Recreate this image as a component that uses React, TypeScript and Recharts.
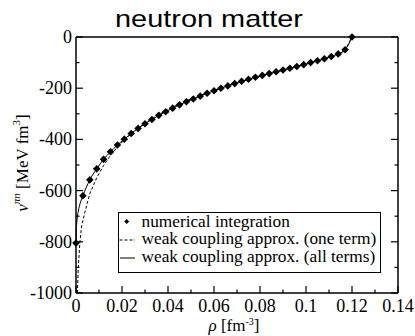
import React from 'react'
import { ComposedChart, Line, Scatter, XAxis, YAxis, Legend } from 'recharts'

// numerical integration (diamonds)
const rhoNumerical = [
  0, 0.003, 0.006, 0.009, 0.012, 0.015, 0.018, 0.021, 0.024, 0.027, 0.03, 0.033, 0.036, 0.039,
  0.042, 0.045, 0.048, 0.051, 0.054, 0.057, 0.06, 0.063, 0.066, 0.069, 0.072, 0.075, 0.078,
  0.081, 0.084, 0.087, 0.09, 0.093, 0.096, 0.099, 0.102, 0.105, 0.108, 0.111, 0.114, 0.117, 0.12,
]
const vNumerical = [
  -805, -620, -558, -515, -478, -448, -422, -399, -377, -357, -339, -322, -306, -292, -278, -265,
  -253, -242, -231, -220, -210, -200, -191, -182, -173, -165, -157, -150, -143, -136, -129, -122,
  -115, -108, -100, -93, -85, -76, -66, -50, 0,
]

// weak coupling approx., one term (dashed)
const rhoOneTerm = [
  0.0006, 0.001, 0.0017, 0.0025, 0.004, 0.006, 0.009, 0.012, 0.015, 0.018, 0.021, 0.025, 0.03,
  0.035, 0.04, 0.045, 0.05, 0.055, 0.06, 0.065, 0.07, 0.075, 0.08, 0.085, 0.09, 0.095, 0.1,
  0.105, 0.11, 0.114, 0.117, 0.12,
]
const vOneTerm = [
  -1000, -900, -800, -735, -680, -612, -550, -502, -462, -430, -402, -370, -336, -308, -283, -261,
  -242, -225, -208, -193, -179, -166, -153, -141, -130, -118, -106, -94, -80, -68, -52, 0,
]

// weak coupling approx., all terms (solid)
const rhoAllTerms = [0, 0.0001, 0.0003, 0.0006, 0.001, 0.0018, ...rhoNumerical.slice(1)]
const vAllTerms = [-805, -760, -730, -702, -680, -650, ...vNumerical.slice(1)]

const xTicks = [0, 0.01, 0.02, 0.03, 0.04, 0.05, 0.06, 0.07, 0.08, 0.09, 0.1, 0.11, 0.12, 0.13, 0.14]
const xLabelled = [0, 0.02, 0.04, 0.06, 0.08, 0.1, 0.12, 0.14]
const yTicks = [0, -100, -200, -300, -400, -500, -600, -700, -800, -900, -1000]
const yLabelled = [0, -200, -400, -600, -800, -1000]

const numerical = rhoNumerical.map((rho, i) => ({ rho, v: vNumerical[i] }))
const oneTerm = rhoOneTerm.map((rho, i) => ({ rho, v: vOneTerm[i] }))
const allTerms = rhoAllTerms.map((rho, i) => ({ rho, v: vAllTerms[i] }))

const serif = "'Liberation Serif', 'Times New Roman', serif"
const MAJOR = 7
const MINOR = 3.5

const BottomTick = (props: any) => {
  const { x, y, payload } = props
  const major = xLabelled.includes(payload.value)
  return (
    <g>
      <line x1={x} x2={x} y1={y} y2={y - (major ? MAJOR : MINOR)} stroke="#000" strokeWidth={1.2} />
      {major && (
        <text x={x} y={y + 19} textAnchor="middle" fontFamily={serif} fontSize={18} fill="#000">
          {String(payload.value)}
        </text>
      )}
    </g>
  )
}

const TopTick = (props: any) => {
  const { x, y, payload } = props
  const major = xLabelled.includes(payload.value)
  return <line x1={x} x2={x} y1={y} y2={y + (major ? MAJOR : MINOR)} stroke="#000" strokeWidth={1.2} />
}

const LeftTick = (props: any) => {
  const { x, y, payload } = props
  const major = yLabelled.includes(payload.value)
  return (
    <g>
      <line x1={x} x2={x + (major ? MAJOR : MINOR)} y1={y} y2={y} stroke="#000" strokeWidth={1.2} />
      {major && (
        <text x={x - 4} y={y + 6} textAnchor="end" fontFamily={serif} fontSize={18} fill="#000">
          {String(payload.value)}
        </text>
      )}
    </g>
  )
}

const RightTick = (props: any) => {
  const { x, y, payload } = props
  const major = yLabelled.includes(payload.value)
  return <line x1={x} x2={x - (major ? MAJOR : MINOR)} y1={y} y2={y} stroke="#000" strokeWidth={1.2} />
}

const Diamond = (props: any) => {
  const { cx, cy } = props
  const r = 3.8
  return <polygon points={`${cx},${cy - r} ${cx + r},${cy} ${cx},${cy + r} ${cx - r},${cy}`} fill="#000" />
}

const XTitle = () => (
  <text x={234} y={331} textAnchor="middle" fontFamily={serif} fontSize={17} fill="#000">
    <tspan fontStyle="italic">ρ</tspan>
    <tspan> [fm</tspan>
    <tspan fontSize={10} dy={-6.5}>-3</tspan>
    <tspan dy={6.5}>]</tspan>
  </text>
)

const YTitle = () => {
  const cy = 163
  const bx = 28
  return (
    <text
      x={bx}
      y={cy}
      transform={`rotate(-90 ${bx} ${cy})`}
      textAnchor="middle"
      fontFamily={serif}
      fontSize={17}
      fill="#000"
    >
      <tspan fontStyle="italic">ν</tspan>
      <tspan fontStyle="italic" fontSize={11} dy={-8}>πn</tspan>
      <tspan dy={8}> [MeV fm</tspan>
      <tspan fontSize={11} dy={-8}>3</tspan>
      <tspan dy={8}>]</tspan>
    </text>
  )
}

const LegendBox = () => (
  <svg width={263} height={61} style={{ display: 'block' }}>
    <rect x={0.5} y={0.5} width={262} height={60} fill="#fff" stroke="#000" strokeWidth={1} />
    <polygon points="8.7,7 11.2,9.5 8.7,12 6.2,9.5" fill="#000" />
    <line x1={1.5} x2={17} y1={28} y2={28} stroke="#000" strokeDasharray="3 2" />
    <line x1={2} x2={17} y1={46} y2={46} stroke="#000" />
    <g fontFamily={serif} fontSize={17.3} fill="#000">
      <text x={23.5} y={14.7}>numerical integration</text>
      <text x={23.5} y={32.3}>weak coupling approx. (one term)</text>
      <text x={23.5} y={50.3}>weak coupling approx. (all terms)</text>
    </g>
  </svg>
)

export default function App() {
  return (
    <div style={{ position: 'absolute', left: 0, top: 0, width: 415, height: 336, background: '#fff' }}>
      <svg width={415} height={36} style={{ position: 'absolute', left: 0, top: 0 }}>
        <text
          x={209}
          y={27}
          textAnchor="middle"
          fontFamily="'Liberation Sans', Arial, sans-serif"
          fontSize={24}
          textLength={188}
          lengthAdjust="spacingAndGlyphs"
          fill="#000"
        >
          neutron matter
        </text>
      </svg>
      <ComposedChart width={415} height={336} margin={{ top: 36, right: 16, bottom: 42, left: 75 }}>
        <XAxis
          xAxisId="bottom"
          dataKey="rho"
          type="number"
          domain={[0, 0.14]}
          ticks={xTicks}
          interval={0}
          height={1}
          tickSize={0}
          tickMargin={0}
          tickLine={false}
          tick={<BottomTick />}
          axisLine={{ stroke: '#000', strokeWidth: 1.5 }}
          label={<XTitle />}
        />
        <XAxis
          xAxisId="top"
          orientation="top"
          type="number"
          domain={[0, 0.14]}
          allowDataOverflow
          ticks={xTicks}
          interval={0}
          height={1}
          tickSize={0}
          tickMargin={0}
          tickLine={false}
          tick={<TopTick />}
          axisLine={{ stroke: '#000', strokeWidth: 1.5 }}
        />
        <YAxis
          yAxisId="left"
          dataKey="v"
          type="number"
          domain={[-1000, 0]}
          ticks={yTicks}
          interval={0}
          width={1}
          tickSize={0}
          tickMargin={0}
          tickLine={false}
          tick={<LeftTick />}
          axisLine={{ stroke: '#000', strokeWidth: 1.5 }}
          label={<YTitle />}
        />
        <YAxis
          yAxisId="right"
          orientation="right"
          type="number"
          domain={[-1000, 0]}
          allowDataOverflow
          ticks={yTicks}
          interval={0}
          width={1}
          tickSize={0}
          tickMargin={0}
          tickLine={false}
          tick={<RightTick />}
          axisLine={{ stroke: '#000', strokeWidth: 1.5 }}
        />
        <Line
          xAxisId="bottom"
          yAxisId="left"
          data={oneTerm}
          dataKey="v"
          type="linear"
          stroke="#000"
          strokeWidth={1}
          strokeDasharray="3 2"
          dot={false}
          isAnimationActive={false}
          legendType="none"
        />
        <Line
          xAxisId="bottom"
          yAxisId="left"
          data={allTerms}
          dataKey="v"
          type="monotone"
          stroke="#000"
          strokeWidth={1}
          dot={false}
          isAnimationActive={false}
          legendType="none"
        />
        <Scatter
          xAxisId="bottom"
          yAxisId="left"
          data={numerical}
          dataKey="v"
          shape={<Diamond />}
          isAnimationActive={false}
          legendType="none"
        />
        <Legend
          layout="vertical"
          align="center"
          verticalAlign="middle"
          content={<LegendBox />}
          wrapperStyle={{ left: 118, top: 212, width: 263, height: 61 }}
        />
      </ComposedChart>
    </div>
  )
}
